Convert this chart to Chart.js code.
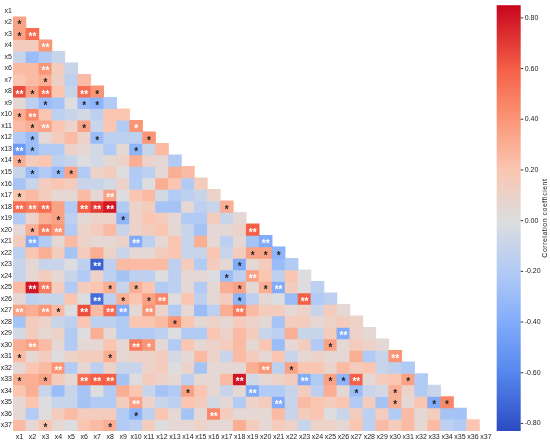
<!DOCTYPE html>
<html>
<head>
<meta charset="utf-8">
<title>Correlation heatmap</title>
<script src="https://cdn.jsdelivr.net/npm/chart.js@4"></script>
<style>
  html, body { margin: 0; padding: 0; background: #fff; }
  #wrap { width: 550px; height: 440px; }
</style>
</head>
<body>
<div id="wrap"><canvas id="myChart" width="550" height="440"></canvas></div>
<script>
const rowLabels = ["x1","x2","x3","x4","x5","x6","x7","x8","x9","x10","x11","x12","x13","x14","x15","x16","x17","x18","x19","x20","x21","x22","x23","x24","x25","x26","x27","x28","x29","x30","x31","x32","x33","x34","x35","x36","x37"];
const colLabels = rowLabels;

// lower triangle, row i holds columns 1..i-1
const corrRows = [
  [],
  [0.35],
  [0.35, 0.55],
  [0.15, 0.15, 0.4],
  [-0.1, -0.3, -0.2, -0.1],
  [0.25, 0.25, 0.4, 0.15, -0.1],
  [0.2, 0.25, 0.3, 0.12, -0.15, 0.25],
  [0.65, 0.35, 0.55, 0.2, -0.1, 0.55, 0.4],
  [0.05, -0.15, -0.3, -0.25, 0, -0.3, -0.35, -0.2],
  [0.3, 0.45, 0.2, -0.15, -0.1, -0.05, -0.15, 0.2, 0.2],
  [0.25, 0.3, 0.35, 0.2, 0.1, 0.35, -0.1, 0.2, -0.2, 0.4],
  [-0.2, -0.3, 0.05, 0.15, 0.25, 0.1, -0.3, -0.15, -0.15, -0.15, 0.4],
  [-0.5, -0.3, -0.2, -0.2, 0.1, 0.05, -0.05, -0.2, 0.05, -0.35, -0.1, 0.25],
  [0.3, 0.15, 0.2, -0.15, -0.1, 0, -0.05, 0.05, 0.1, 0.3, 0.1, 0.05, -0.2],
  [-0.1, -0.3, -0.2, -0.3, 0.35, -0.2, 0.1, 0.15, 0, -0.2, -0.15, 0.05, 0.3, 0.25],
  [-0.25, -0.1, 0.15, 0.2, 0.15, -0.1, -0.1, -0.05, 0.1, -0.2, 0, 0.3, 0.2, -0.2, 0.15],
  [0.2, 0.25, 0.15, 0.05, 0.05, 0.25, 0.05, 0.35, 0, 0.2, 0.25, -0.05, -0.2, -0.15, -0.1, 0.1],
  [0.55, 0.5, 0.55, 0.35, -0.2, 0.6, 0.7, 0.8, -0.2, 0.1, 0.15, -0.25, -0.25, 0.05, -0.15, -0.1, 0.3],
  [-0.2, 0.1, 0.3, 0.35, -0.15, 0.05, 0.1, 0.1, -0.35, 0.1, 0.2, 0.15, 0.05, -0.2, -0.2, 0.15, -0.1, 0.05],
  [0.05, 0.3, 0.5, 0.4, -0.2, 0.1, 0.15, 0.25, -0.1, 0.1, 0.15, 0.2, 0.05, -0.1, -0.25, 0.05, 0.05, 0.1, 0.6],
  [0.15, -0.4, -0.2, 0.05, 0.25, 0.1, 0.05, 0.05, 0.1, -0.4, -0.15, 0.05, 0.2, -0.1, 0.3, 0.05, -0.15, 0.05, -0.25, -0.4],
  [-0.15, 0.2, 0.3, 0.15, -0.25, 0.15, 0.3, 0.1, -0.1, 0.05, 0.05, 0.15, 0.2, -0.1, -0.1, 0.2, -0.1, 0.15, 0.35, 0.35, -0.35],
  [-0.1, 0.05, -0.1, -0.1, 0, -0.15, -0.75, -0.15, 0.25, 0.25, 0.25, 0.25, -0.15, 0.15, -0.2, 0.15, 0.05, -0.4, 0.05, 0.15, -0.3, -0.2],
  [-0.1, 0.05, 0.15, 0.05, -0.1, -0.2, 0.1, -0.15, -0.25, -0.15, -0.15, 0, -0.15, 0.05, 0.05, 0, -0.3, -0.15, 0.35, 0.2, -0.15, 0.2, 0],
  [0.25, 0.8, 0.5, 0.15, -0.2, 0.15, 0.2, 0.3, -0.1, 0.3, 0.2, -0.2, -0.15, 0.05, -0.2, 0.05, 0.3, 0.35, 0.05, 0.3, -0.4, 0.15, 0, -0.15],
  [0.05, -0.15, -0.1, -0.1, 0.2, 0, -0.7, -0.15, 0.3, 0.2, 0.35, 0.45, 0, 0.2, -0.15, 0.05, 0.15, -0.35, -0.15, 0.05, 0, -0.3, 0.6, -0.2, -0.15],
  [0.35, 0.3, 0.4, 0.25, 0, 0.65, 0.25, 0.55, -0.4, 0.05, 0.4, 0.1, -0.2, 0.05, -0.3, -0.15, 0.3, 0.5, 0.25, 0.15, 0.15, 0.05, 0.1, -0.1, 0.15, 0.05],
  [-0.25, 0.15, 0.1, -0.1, -0.15, 0.2, -0.15, -0.15, -0.2, 0.2, 0.2, 0.25, 0.4, 0.2, 0.05, 0.1, 0.05, 0.15, 0.1, 0.05, -0.25, 0.15, 0.15, 0.05, 0.1, 0.15, 0.1],
  [-0.05, 0.15, 0.05, 0.1, -0.2, 0, 0.3, 0.05, -0.2, -0.2, -0.2, -0.15, 0, -0.2, -0.2, 0.2, 0.1, 0.25, 0.15, -0.1, -0.15, 0.3, -0.1, -0.1, 0.15, -0.4, 0.1, 0.05],
  [0.3, 0.35, 0.25, 0.05, -0.2, 0.05, 0.05, 0.2, 0.05, 0.5, 0.4, 0.05, -0.2, 0.2, 0.05, 0.1, 0.15, 0.25, 0.05, 0.2, -0.3, 0.05, 0.15, -0.2, 0.35, 0.05, 0.15, 0.1, 0.05],
  [0.25, 0.05, 0.15, 0, 0.1, 0.15, 0.15, 0.3, 0.05, 0.1, 0.1, 0.15, -0.05, 0.05, 0.25, 0.1, -0.1, 0.25, 0.15, 0.05, 0.2, -0.1, 0.05, 0.1, 0.05, 0.05, 0.3, -0.2, -0.1, 0.4],
  [0.05, 0.2, 0.25, 0.4, -0.2, 0.05, -0.15, 0.1, -0.1, -0.1, 0.1, 0.15, 0, 0.1, -0.25, 0.05, 0.05, 0.05, 0.3, 0.4, -0.15, 0.35, 0.2, 0.2, 0.08, 0.25, 0.15, 0.2, -0.1, -0.15, -0.2],
  [0.3, 0.3, 0.35, 0.15, 0.05, 0.55, 0.6, 0.6, -0.25, 0, 0.15, 0.1, 0.05, -0.15, 0.05, 0.05, 0.25, 0.8, -0.05, 0.05, 0.1, 0.15, -0.4, -0.2, 0.35, -0.35, 0.6, 0.05, 0.15, 0.2, 0.35, -0.2],
  [0.2, 0.3, -0.1, -0.3, -0.1, -0.25, 0, -0.2, 0.3, 0.2, -0.1, -0.25, -0.2, 0.35, 0.2, 0.05, -0.1, 0.05, -0.4, -0.2, -0.2, -0.1, 0.15, -0.15, 0.3, 0.05, -0.3, -0.1, -0.05, 0.3, 0.1, -0.2, -0.1],
  [0.05, 0.2, 0, -0.1, -0.1, -0.25, -0.2, -0.2, 0.15, 0.35, 0.1, -0.1, -0.15, 0.2, 0.15, -0.05, 0.05, -0.2, 0.1, 0.15, -0.4, -0.1, 0.25, 0.2, 0.15, 0.2, -0.2, 0.15, -0.25, 0.3, 0.05, 0.2, -0.4, 0.45],
  [0.05, -0.2, 0, 0.15, 0.25, 0.15, 0.15, 0.15, -0.2, -0.35, -0.15, 0.2, 0.05, -0.25, 0.05, 0.45, 0.15, 0.05, 0.05, 0.05, 0.25, -0.1, 0.15, 0.2, 0, -0.1, 0.15, -0.15, 0.15, -0.2, 0.25, 0.05, 0.15, -0.25, -0.25],
  [0.25, 0.05, 0.2, 0.05, 0, 0.2, 0.25, 0.3, -0.2, -0.15, 0.15, 0, 0.05, 0.05, 0.1, 0.05, 0.05, 0.3, 0.15, 0.05, 0.15, 0.1, -0.1, 0.1, 0.1, 0.05, 0.2, -0.15, 0.25, 0.15, 0.25, 0.05, 0.25, -0.15, -0.2, 0.2]
];

// [row, col, mark]  1 = "*" dark, 2 = "**" white, 3 = "*" white
const starCells = [
  [2,1,1], [3,1,1], [3,2,2], [4,3,2], [6,3,2], [7,3,1],
  [8,1,2], [8,2,1], [8,3,2], [8,6,2], [8,7,1],
  [9,3,1], [9,6,1], [9,7,1], [10,1,1], [10,2,2],
  [11,2,1], [11,3,2], [11,6,1], [11,10,3],
  [12,2,1], [12,7,1], [12,11,1], [13,1,2], [13,2,1], [13,10,1],
  [14,1,1], [15,2,1], [15,4,1], [15,5,1], [17,1,1], [17,8,2],
  [18,1,2], [18,2,2], [18,3,2], [18,6,2], [18,7,2], [18,8,2], [18,17,1],
  [19,4,1], [19,9,1], [20,2,1], [20,3,2], [20,4,2], [20,19,2],
  [21,2,2], [21,10,2], [21,20,2], [22,19,1], [22,20,1], [22,21,1],
  [23,7,2], [23,18,1], [24,17,1], [24,19,2],
  [25,2,2], [25,3,2], [25,8,1], [25,10,1], [25,18,1], [25,20,1], [25,21,2],
  [26,7,2], [26,9,1], [26,11,1], [26,12,2], [26,18,1], [26,23,2],
  [27,1,2], [27,3,2], [27,4,1], [27,6,2], [27,8,2], [27,9,2], [27,11,2], [27,18,2],
  [28,13,1], [29,26,2], [30,2,2], [30,10,2], [30,11,3], [30,25,1],
  [31,1,1], [31,8,1], [31,30,2], [32,4,2], [32,20,2], [32,22,1],
  [33,1,1], [33,3,1], [33,6,2], [33,7,2], [33,8,2], [33,18,2], [33,23,2], [33,25,1], [33,26,1], [33,27,2], [33,31,1],
  [34,14,1], [34,19,2], [34,27,1], [34,30,1],
  [35,10,2], [35,21,2], [35,30,1], [35,33,1], [35,34,1],
  [36,10,1], [36,16,2], [37,3,1], [37,8,1]
];

const cbTicks = [-0.8, -0.6, -0.4, -0.2, 0, 0.2, 0.4, 0.6, 0.8];
const vmin = -0.83, vmax = 0.85;

const cmapStops = [
  [-0.83, [45, 75, 195]],
  [-0.6, [85, 135, 238]],
  [-0.4, [130, 172, 250]],
  [-0.2, [178, 203, 245]],
  [0, [221, 221, 223]],
  [0.2, [250, 198, 178]],
  [0.4, [250, 150, 118]],
  [0.6, [244, 95, 70]],
  [0.85, [200, 5, 30]]
];

function cmap(v) {
  if (v <= cmapStops[0][0]) return "rgb(" + cmapStops[0][1].join(",") + ")";
  for (let i = 1; i < cmapStops.length; i++) {
    const [v1, c1] = cmapStops[i];
    if (v <= v1) {
      const [v0, c0] = cmapStops[i - 1];
      const t = (v - v0) / (v1 - v0);
      return "rgb(" + c0.map((c, k) => Math.round(c + (c1[k] - c) * t)).join(",") + ")";
    }
  }
  return "rgb(" + cmapStops[cmapStops.length - 1][1].join(",") + ")";
}

const datasets = corrRows.map((vals, r) => ({
  label: rowLabels[r],
  data: colLabels.map((_, c) => (c < vals.length ? [r + 0.5, r + 1.5] : null)),
  backgroundColor: colLabels.map((_, c) => (c < vals.length ? cmap(vals[c]) : "transparent")),
  borderWidth: 0,
  grouped: false,
  barPercentage: 1,
  categoryPercentage: 1,
}));

const starPlugin = {
  id: "stars",
  afterDatasetsDraw(chart) {
    const { ctx, scales } = chart;
    ctx.save();
    ctx.font = 'bold 10px "Liberation Sans", Arial, sans-serif';
    ctx.textAlign = "center";
    ctx.textBaseline = "alphabetic";
    starCells.forEach(([r, c, m]) => {
      ctx.fillStyle = m === 1 ? "#222" : "#fff";
      ctx.fillText(m === 2 ? "**" : "*", scales.x.getPixelForValue(c - 1), scales.y.getPixelForValue(r) + 6);
    });
    ctx.restore();
  },
};

const colorbarPlugin = {
  id: "colorbar",
  afterDraw(chart) {
    const ctx = chart.ctx;
    const area = chart.chartArea;
    const x0 = area.right + 4.3;
    const w = 24;
    const top = area.top, bottom = area.bottom;
    const toY = (v) => bottom - ((v - vmin) / (vmax - vmin)) * (bottom - top);
    const grad = ctx.createLinearGradient(0, bottom, 0, top);
    cmapStops.forEach(([v, c]) => grad.addColorStop((v - vmin) / (vmax - vmin), "rgb(" + c.join(",") + ")"));
    ctx.save();
    ctx.fillStyle = grad;
    ctx.fillRect(x0, top, w, bottom - top);
    ctx.strokeStyle = "#333";
    ctx.lineWidth = 1;
    ctx.fillStyle = "#222";
    ctx.font = '7px "Liberation Sans", Arial, sans-serif';
    ctx.textBaseline = "middle";
    ctx.textAlign = "left";
    cbTicks.forEach((v) => {
      const y = toY(v);
      ctx.beginPath();
      ctx.moveTo(x0 + w, y);
      ctx.lineTo(x0 + w + 2.5, y);
      ctx.stroke();
      ctx.fillText(v.toFixed(2), x0 + w + 4, y);
    });
    ctx.translate(545, (top + bottom) / 2);
    ctx.rotate(-Math.PI / 2);
    ctx.textAlign = "center";
    ctx.letterSpacing = "0.5px";
    ctx.fillText("Correlation coefficient", 0, 0);
    ctx.restore();
  },
};

Chart.defaults.font.family = '"Liberation Sans", Arial, sans-serif';

new Chart(document.getElementById("myChart"), {
  type: "bar",
  data: { labels: colLabels, datasets: datasets },
  options: {
    responsive: false,
    animation: false,
    devicePixelRatio: 1,
    layout: { padding: { top: 3, right: 57.6, left: 0, bottom: 0 } },
    plugins: { legend: { display: false }, tooltip: { enabled: false } },
    scales: {
      x: {
        type: "category",
        grid: { display: false, drawTicks: false },
        border: { display: false },
        ticks: { autoSkip: false, maxRotation: 0, minRotation: 0, padding: 2, color: "#222", font: { size: 7 } },
        afterFit: (s) => { s.height = 9; },
      },
      y: {
        type: "linear",
        reverse: true,
        min: 0.5,
        max: 37.5,
        grid: { display: false, drawTicks: false },
        border: { display: false },
        afterBuildTicks: (s) => { s.ticks = rowLabels.map((_, i) => ({ value: i + 1 })); },
        ticks: { padding: 1, color: "#222", font: { size: 7 }, callback: (v) => rowLabels[v - 1] },
        afterFit: (s) => { s.width = 13; },
      },
    },
  },
  plugins: [starPlugin, colorbarPlugin],
});
</script>
</body>
</html>
